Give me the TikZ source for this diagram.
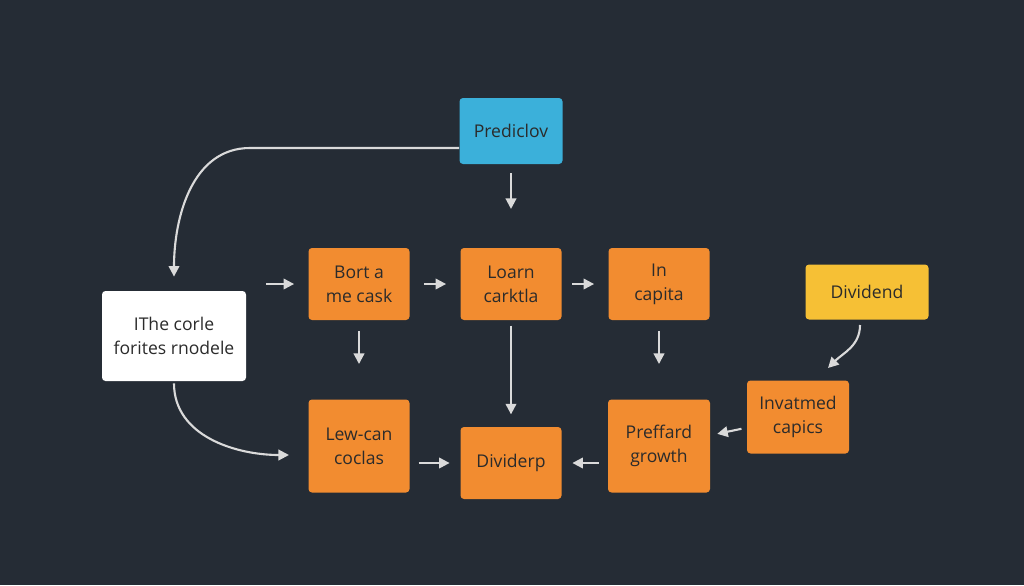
\documentclass[tikz,border=0pt]{standalone}
\usepackage{fontspec}
\setmainfont{Open Sans}
\usepackage{tikz}
\usetikzlibrary{arrows.meta,positioning}
\definecolor{bg}{HTML}{252C35}
\definecolor{box}{HTML}{F28C30}
\definecolor{sky}{HTML}{3BB0DA}
\definecolor{gold}{HTML}{F6C035}
\definecolor{ink}{HTML}{2B2B2B}
\definecolor{wire}{HTML}{DADADA}
\tikzstyle{stage} = [rectangle, fill=box, text=ink, align=center, rounded corners=2pt, minimum width=101*0.02cm, minimum height=72*0.02cm, font=\fontsize{10}{13.5}\selectfont]
\tikzstyle{line} = [draw=wire, line width=1.2pt, -{Triangle[length=6pt,width=6pt]}]

\begin{document}
\begin{tikzpicture}[x=0.02cm, y=-0.02cm]
    \fill [bg] (0,0) rectangle (1024,585);
    \node [stage, fill=sky, minimum height=66*0.02cm, minimum width=103*0.02cm] (pred) at (511,131) {Prediclov};
    \node [stage, fill=white, minimum width=144*0.02cm, minimum height=90*0.02cm] (core) at (174,336) {IThe corle\\forites rnodele};
    \node [stage] (bort) at (359,284) {Bort a\\me cask};
    \node [stage] (loarn) at (511,284) {Loarn\\carktla};
    \node [stage] (capita) at (659,284) {In\\capita};
    \node [stage, fill=gold, minimum width=123*0.02cm, minimum height=55*0.02cm] (divd) at (867,292) {Dividend};
    \node [stage, minimum height=93*0.02cm] (lew) at (359,446) {Lew-can\\coclas};
    \node [stage] (divp) at (511,463) {Dividerp};
    \node [stage, minimum width=102*0.02cm, minimum height=93*0.02cm] (pref) at (659,446) {Preffard\\growth};
    \node [stage, minimum width=102*0.02cm, minimum height=73*0.02cm] (inv) at (798,417) {Invatmed\\capics};
    \coordinate (feed) at (266,284);

    \path [line] (pred.west |- 0,148) -- (250,148) to[out=180, in=90] ([yshift=8pt]core.north);
    \path [line, shorten <=5pt, shorten >=22pt] (pred) -- (loarn);
    \path [line, shorten >=8pt] (feed) -- (bort);
    \path [line, shorten <=8pt, shorten >=8pt] (bort) -- (loarn);
    \path [line, shorten <=6pt, shorten >=8pt] (loarn) -- (capita);
    \path [line, shorten <=6pt, shorten >=20pt] (bort) -- (bort |- lew.north);
    \path [line, shorten <=3pt, shorten >=7pt] (loarn) -- (divp);
    \path [line, shorten <=6pt, shorten >=20pt] (capita) -- (capita |- pref.north);
    \path [line] (860,325) to[out=-90, in=45] (828,368);
    \path [line, shorten <=3pt, shorten >=4pt] (inv) -- (pref);
    \path [line] (core.south) ++(0,2) to[out=-90, in=180] (289,455);
    \path [line, shorten <=5pt, shorten >=6pt] (lew.east |- divp) -- (divp);
    \path [line, shorten <=5pt, shorten >=6pt] (pref.west |- divp) -- (divp);
\end{tikzpicture}
\end{document}
